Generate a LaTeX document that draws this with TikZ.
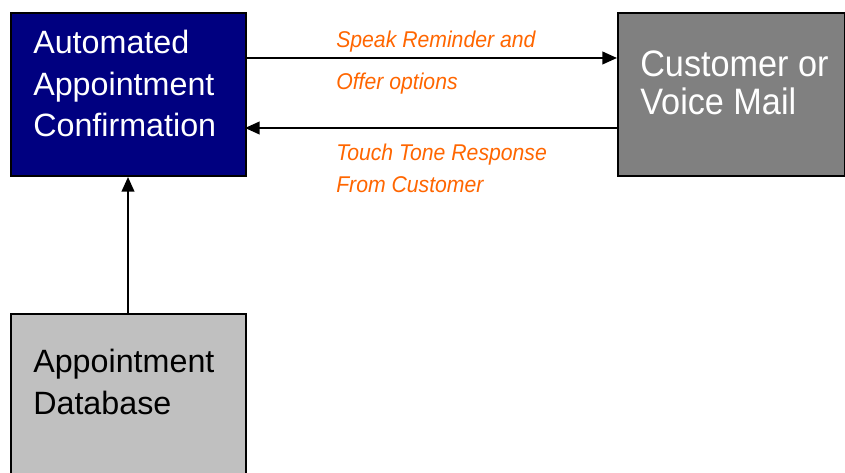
\documentclass[tikz,border=0pt]{standalone}
\usepackage{fontspec}
\setmainfont{Liberation Sans}
\newfontfamily\narrowfont{Liberation Sans}[FakeStretch=0.93]
\usetikzlibrary{arrows.meta}
\definecolor{boxnavy}{HTML}{000080}
\definecolor{boxgrey}{HTML}{808080}
\definecolor{boxsilver}{HTML}{C0C0C0}
\definecolor{notecol}{HTML}{FF6600}
\begin{document}
\begin{tikzpicture}[x=0.75pt,y=-0.75pt,
  box/.style={draw=black,line width=1.5pt,rectangle,inner sep=0pt,anchor=north west},
  boxtext/.style={anchor=base west,inner sep=0pt,font=\fontsize{24.2}{31}\selectfont},
  bigtext/.style={anchor=base west,inner sep=0pt,font=\narrowfont\fontsize{27.6}{28}\selectfont},
  note/.style={anchor=base west,inner sep=0pt,text=notecol,font=\narrowfont\fontsize{17.1}{20}\selectfont\itshape},
  flow/.style={line width=1.5pt,-{Triangle[length=11pt,width=9.5pt]}}]
\useasboundingbox (0,0) rectangle (845,473);
\fill[white] (0,0) rectangle (845,473);

% boxes
\node[box,fill=boxnavy,minimum width=176.25pt,minimum height=122.25pt] (auto) at (10,12) {};
\node[box,fill=boxgrey,minimum width=170.25pt,minimum height=122.25pt] (cust) at (617,12) {};
\node[box,fill=boxsilver,minimum width=176.25pt,minimum height=130pt] (db) at (10,313) {};

% box captions
\node[boxtext,text=white] (a1) at (33,54) {Automated};
\node[boxtext,text=white] (a2) at (33,96) {Appointment};
\node[boxtext,text=white] (a3) at (33,137) {Confirmation};
\node[bigtext,text=white] (c1) at (640,77) {Customer or};
\node[bigtext,text=white] (c2) at (640,115) {Voice Mail};
\node[boxtext,text=black] (d1) at (33,373) {Appointment};
\node[boxtext,text=black] (d2) at (33,415) {Database};

% connectors
\coordinate (outA) at (245,58);
\coordinate (outB) at (617,58);
\coordinate (inA) at (617,128);
\coordinate (inB) at (245,128);
\draw[flow] (outA) -- (outB);
\draw[flow] (inA) -- (inB);
\draw[flow] (db.north -| 128,0) -- (auto.south -| 128,0);

% connector notes
\node[note] (n1) at (336,48) {Speak Reminder and};
\node[note] (n2) at (336,90) {Offer options};
\node[note] (n3) at (336,161) {Touch Tone Response};
\node[note] (n4) at (336,193) {From Customer};
\end{tikzpicture}
\end{document}
